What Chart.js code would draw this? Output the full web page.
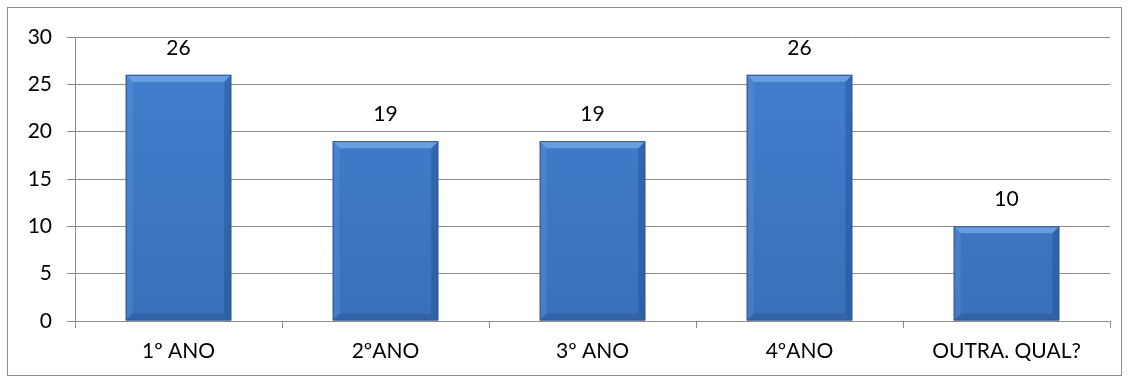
<!DOCTYPE html>
<html>
<head>
<meta charset="utf-8">
<script src="https://cdn.jsdelivr.net/npm/chart.js@4"></script>
<style>
  body { margin: 0; background: #fff; }
  #wrap { position: relative; width: 1131px; height: 383px; }
  #frame { position: absolute; left: 7px; top: 7px; width: 1115px; height: 369px; border: 1px solid #8c8c8c; box-sizing: border-box; pointer-events: none; }
  canvas { position: absolute; left: 0; top: 0; }
</style>
</head>
<body>
<div id="wrap">
  <canvas id="chart" width="1131" height="383"></canvas>
  <div id="frame"></div>
</div>
<script>
const categories = ["1º ANO", "2ºANO", "3º ANO", "4ºANO", "OUTRA. QUAL?"];
const values = [26, 19, 19, 26, 10];
const yTicks = [0, 5, 10, 15, 20, 25, 30];

const FONT = "Lato, 'Liberation Sans', sans-serif";

// bevelled look for each bar plus the value above it
const bevelBars = {
    id: "bevelBars",
    afterDatasetsDraw(chart) {
        const ctx = chart.ctx;
        const meta = chart.getDatasetMeta(0);
        meta.data.forEach((bar, i) => {
            const p = bar.getProps(["x", "y", "base", "width"], true);
            const l = p.x - p.width / 2, r = p.x + p.width / 2;
            const t = p.y, b = p.base;
            const e = 7;
            ctx.save();
            // top edge
            ctx.fillStyle = "rgba(140,190,245,0.55)";
            ctx.beginPath();
            ctx.moveTo(l, t); ctx.lineTo(r, t); ctx.lineTo(r - e, t + e); ctx.lineTo(l + e, t + e);
            ctx.fill();
            // left edge
            ctx.fillStyle = "rgba(120,170,230,0.22)";
            ctx.beginPath();
            ctx.moveTo(l, t); ctx.lineTo(l + e, t + e); ctx.lineTo(l + e, b - e); ctx.lineTo(l, b);
            ctx.fill();
            // right edge
            ctx.fillStyle = "rgba(20,55,110,0.28)";
            ctx.beginPath();
            ctx.moveTo(r, t); ctx.lineTo(r - e, t + e); ctx.lineTo(r - e, b - e); ctx.lineTo(r, b);
            ctx.fill();
            // bottom edge
            ctx.fillStyle = "rgba(20,50,100,0.2)";
            ctx.beginPath();
            ctx.moveTo(l, b); ctx.lineTo(l + e, b - e); ctx.lineTo(r - e, b - e); ctx.lineTo(r, b);
            ctx.fill();
            ctx.strokeStyle = "#2f5891";
            ctx.lineWidth = 1;
            ctx.strokeRect(l + 0.5, t + 0.5, p.width - 1, b - t - 1);
            ctx.restore();

            ctx.save();
            ctx.fillStyle = "#000";
            ctx.font = "21px " + FONT;
            ctx.textAlign = "center";
            ctx.textBaseline = "alphabetic";
            ctx.fillText(String(values[i]), p.x, t - 20);
            ctx.restore();
        });
    }
};

const ctx = document.getElementById("chart").getContext("2d");
const bodyGrad = ctx.createLinearGradient(0, 37, 0, 321);
bodyGrad.addColorStop(0, "#437fcf");
bodyGrad.addColorStop(1, "#3a70bb");

new Chart(ctx, {
    type: "bar",
    data: {
        labels: categories,
        datasets: [{
            data: values,
            backgroundColor: bodyGrad,
            borderWidth: 0,
            categoryPercentage: 0.51,
            barPercentage: 1.0
        }]
    },
    options: {
        responsive: false,
        animation: false,
        layout: { padding: { top: 37, right: 21, left: 0, bottom: 0 } },
        plugins: { legend: { display: false }, tooltip: { enabled: false } },
        scales: {
            y: {
                min: 0,
                max: 30,
                afterBuildTicks(scale) { scale.ticks = yTicks.map(v => ({ value: v })); },
                afterFit(scale) { scale.width = 75; },
                grid: { color: "#8c8c8c", lineWidth: 1, tickLength: 8, drawTicks: true },
                border: { color: "#8c8c8c" },
                ticks: { color: "#000", font: { family: FONT, size: 21 }, padding: 15 }
            },
            x: {
                afterFit(scale) { scale.height = 62; },
                grid: { offset: true, drawOnChartArea: false, color: "#8c8c8c", tickLength: 7 },
                border: { color: "#8c8c8c" },
                ticks: { color: "#000", font: { family: FONT, size: 21 }, padding: 11 }
            }
        }
    },
    plugins: [bevelBars]
});
</script>
</body>
</html>
